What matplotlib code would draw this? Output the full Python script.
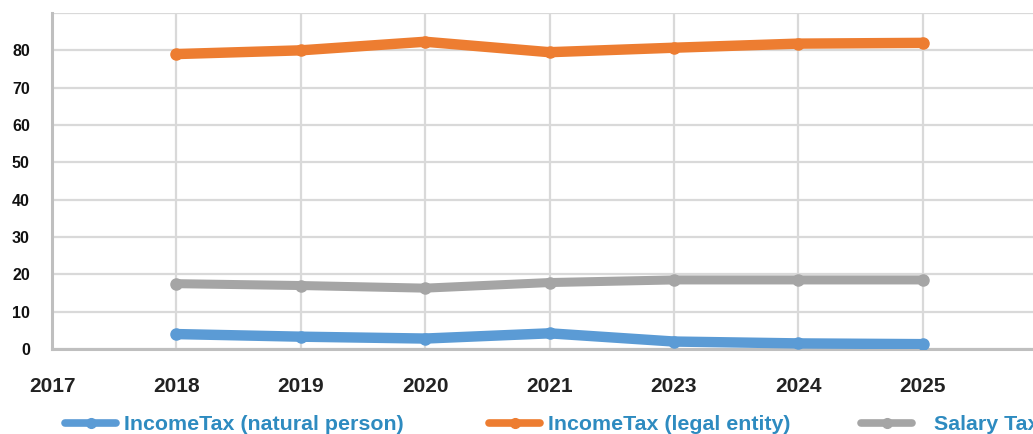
import numpy as np
import matplotlib
matplotlib.use('Agg')
import matplotlib.pyplot as plt

# data
years = ['2017', '2018', '2019', '2020', '2021', '2023', '2024', '2025']
data_years = ['2018', '2019', '2020', '2021', '2023', '2024', '2025']
income_natural = [4.0, 3.3, 2.8, 4.2, 2.0, 1.5, 1.3]
income_legal = [79.0, 80.0, 82.3, 79.5, 80.7, 81.8, 82.0]
salary_tax = [17.5, 17.0, 16.3, 17.8, 18.5, 18.5, 18.5]
y_ticks = [0, 10, 20, 30, 40, 50, 60, 70, 80, 90]
y_labels = ['0', '10', '20', '30', '40', '50', '60', '70', '80', '']

series = [
    ('IncomeTax (natural person)', income_natural, '#5B9BD5', 7.5),
    ('IncomeTax (legal entity)', income_legal, '#ED7D31', 7.5),
    ('Salary Tax', salary_tax, '#A5A5A5', 6.5),
]

plt.rcParams['font.family'] = ['Liberation Sans', 'DejaVu Sans']

W, H = 1033, 434
fig = plt.figure(figsize=(W / 100, H / 100), dpi=100)
ax = fig.add_axes([52 / W, 1 - 349 / H, (1047 - 52) / W, (349 - 13) / H])

xpos = {y: i for i, y in enumerate(years)}
handles = []
for name, vals, col, lw in series:
    xs = [xpos[y] for y in data_years]
    h, = ax.plot(xs, vals, color=col, lw=lw, marker='o', markersize=8,
                 solid_capstyle='round', solid_joinstyle='round', label=name, zorder=3)
    handles.append(h)

ax.set_xlim(0, 8)
ax.set_ylim(0, 90)
ax.set_xticks(range(len(years) + 1))
ax.set_xticklabels(years + [''])
ax.set_yticks(y_ticks)
ax.set_yticklabels(y_labels)
ax.grid(True, color='#D9D9D9', lw=1.6)
ax.set_axisbelow(True)
for s in ['top', 'right']:
    ax.spines[s].set_visible(False)
for s in ['left', 'bottom']:
    ax.spines[s].set_color('#BFBFBF')
    ax.spines[s].set_linewidth(2.2)
ax.tick_params(length=0)
ax.tick_params(axis='x', pad=20, labelsize=15, labelcolor='#222222')
ax.tick_params(axis='y', pad=16, labelsize=11.5, labelcolor='#111111')
for t in ax.get_xticklabels() + ax.get_yticklabels():
    t.set_fontweight('bold')

# legend entries, spread like the reference
leg_x = [65, 489, 861]
leg_pad = [0.35, 0.35, 1.0]
for h, lx, tp in zip(handles, leg_x, leg_pad):
    lh = plt.Line2D([], [], color=h.get_color(), lw=5.5, marker='o', markersize=7,
                    solid_capstyle='round')
    fig.legend([lh], [h.get_label()], loc='center left',
               bbox_to_anchor=(lx / W, 1 - 425 / H), frameon=False,
               borderpad=0, borderaxespad=0, handlelength=2.4, handletextpad=tp,
               prop={'size': 15.4, 'weight': 'bold'}, labelcolor='#2E8BC0')

fig.savefig('out.png', dpi=100)
